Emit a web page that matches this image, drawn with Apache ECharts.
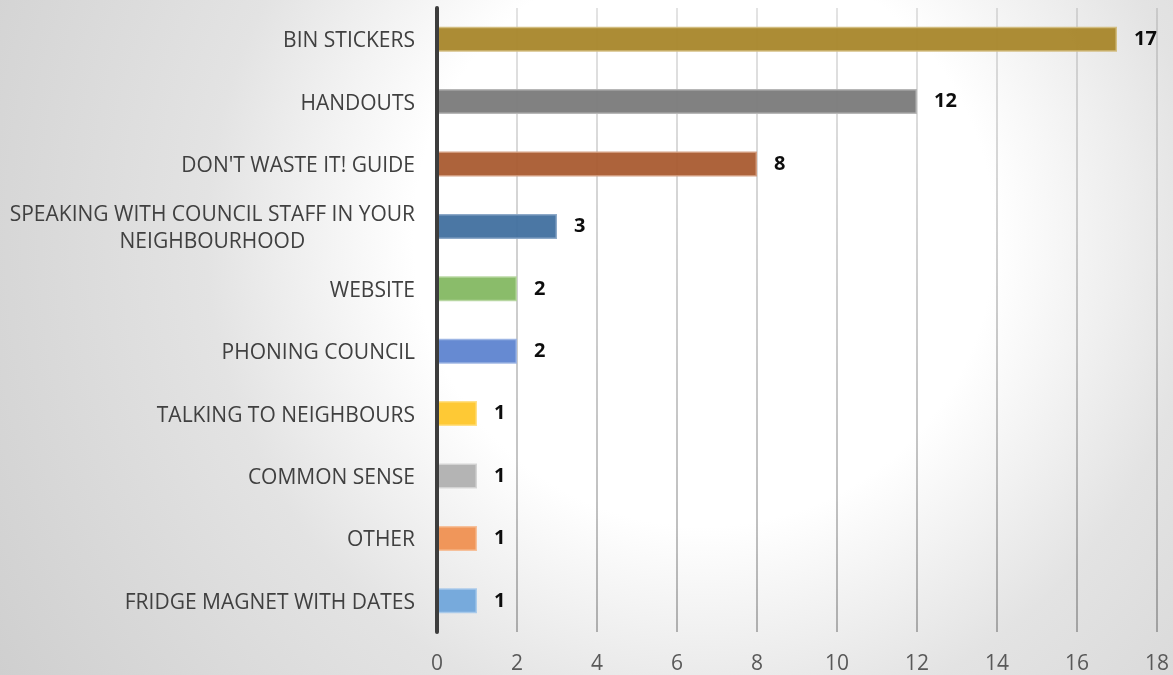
<!DOCTYPE html>
<html>
<head>
<meta charset="utf-8">
<title>Sources of information</title>
<script src="https://cdn.jsdelivr.net/npm/echarts@6/dist/echarts.min.js"></script>
<style>
  html, body { margin: 0; padding: 0; }
  #chart {
    width: 1173px; height: 675px;
    background: radial-gradient(circle farthest-corner at 60% 35%, #ffffff 0%, #ffffff 35%, #e3e3e3 60%, #cfcfcf 100%);
  }
</style>
</head>
<body>
<div id="chart"></div>
<script>
// Categories, top to bottom
const categories = [
  'BIN STICKERS',
  'HANDOUTS',
  "DON'T WASTE IT! GUIDE",
  'SPEAKING WITH COUNCIL STAFF IN YOUR\nNEIGHBOURHOOD',
  'WEBSITE',
  'PHONING COUNCIL',
  'TALKING TO NEIGHBOURS',
  'COMMON SENSE',
  'OTHER',
  'FRIDGE MAGNET WITH DATES'
];
// Number of responses per category
const values = [17, 12, 8, 3, 2, 2, 1, 1, 1, 1];
// Value axis range
const axisMin = 0;
const axisMax = 18;
const axisStep = 2;

// One fill colour per bar, plus a lighter edge
const barColors = ['#a8862a', '#7a7a7a', '#a95b30', '#41709f', '#84b862', '#5e84d0', '#fec62a', '#b0b0b0', '#ef9051', '#71a6db'];
const edgeColors = ['#d2bd7e', '#b5b5b5', '#d19a7c', '#8aa6c6', '#b6d6a0', '#9cb4e4', '#ffdf84', '#d4d4d4', '#f6bf98', '#a9c9ea'];

const chart = echarts.init(document.getElementById('chart'), null, { renderer: 'canvas' });

const gridTop = 8;
const gridBottomY = 632;

const option = {
  backgroundColor: 'transparent',
  animation: false,
  grid: { left: 437, right: 16, top: gridTop, bottom: 675 - gridBottomY, containLabel: false },
  xAxis: {
    type: 'value',
    min: axisMin,
    max: axisMax,
    interval: axisStep,
    axisLine: { show: false },
    axisTick: { show: false },
    splitLine: {
      lineStyle: {
        width: 2,
        // gridlines fade out towards the top
        color: {
          type: 'linear', global: true,
          x: 0, y: gridTop, x2: 0, y2: gridBottomY,
          colorStops: [
            { offset: 0, color: 'rgba(0,0,0,0.11)' },
            { offset: 0.5, color: 'rgba(0,0,0,0.2)' },
            { offset: 1, color: 'rgba(0,0,0,0.27)' }
          ]
        }
      }
    },
    axisLabel: { margin: 22, fontSize: 21, color: '#595959', fontFamily: 'Open Sans' }
  },
  yAxis: {
    type: 'category',
    inverse: true,
    z: 5,
    data: categories,
    axisLine: { lineStyle: { color: '#3d3d3d', width: 4 } },
    axisTick: { show: false },
    axisLabel: {
      margin: 22,
      padding: [4, 0, 0, 0],
      formatter: v => v.split('\n').map(s => '{c|' + s + '}').join('\n'),
      rich: {
        c: { align: 'center', fontSize: 21, lineHeight: 27, color: '#404040', fontFamily: 'Open Sans' }
      }
    }
  },
  series: [{
    type: 'bar',
    barWidth: 25,
    data: values.map((v, i) => ({
      value: v,
      itemStyle: { color: barColors[i], borderColor: edgeColors[i], borderWidth: 1.5, opacity: 0.95 }
    })),
    label: {
      show: true,
      position: 'right',
      distance: 17,
      fontSize: 20,
      fontWeight: 'bold',
      color: '#000000',
      fontFamily: 'Open Sans'
    },
    z: 3
  }]
};

chart.setOption(option);
</script>
</body>
</html>
